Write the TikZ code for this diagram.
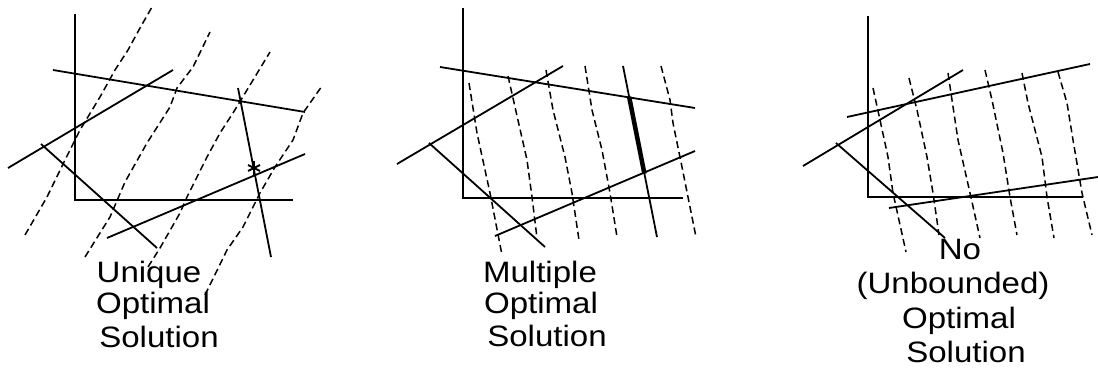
\documentclass[tikz,border=0pt]{standalone}
\usepackage{fontspec}
\setmainfont{Liberation Sans}
\usepackage{graphicx}
\usetikzlibrary{calc}
\tikzset{
  solidline/.style={line width=1.8pt},
  thickseg/.style={line width=4.5pt},
  dashline/.style={line width=1.5pt, dash pattern=on 7pt off 4pt},
  axisline/.style={line width=1.8pt},
  starline/.style={line width=2pt},
  lbl/.style={font=\fontsize{29.5}{32}\selectfont, inner sep=0pt, anchor=base},
}
\newcommand{\wideit}[1]{\scalebox{1.12}[1]{#1}}
\begin{document}
\begin{tikzpicture}[x=1pt,y=-1pt]
\useasboundingbox (0,0) rectangle (1098,372);

% ---------- Panel 1: unique optimal solution ----------
\draw[axisline] (75,14) -- (75,200) -- (293,200);
\draw[solidline] (53,70) -- (305,112);
\draw[solidline] (8,168) -- (173,70);
\draw[solidline] (41,144) -- (157,248);
\draw[solidline] (107,238) -- (305,154);
\draw[solidline] (238,88) -- (271,257);
\draw[dashline] (25,235) -- (47,197) -- (65,160) -- (80,130) -- (100,97) -- (115,70) -- (128,50) -- (140,28) -- (152,7);
\draw[dashline] (85,257) -- (110,217) -- (125,182) -- (147,143) -- (170,107) -- (177,88) -- (193,67) -- (210,32);
\draw[dashline] (148,267) -- (160,248) -- (180,213) -- (187,197) -- (207,157) -- (220,133) -- (233,113) -- (247,90) -- (270,52);
\draw[dashline] (205,295) -- (227,250) -- (243,227) -- (260,193) -- (275,167) -- (293,140) -- (303,113) -- (322,86);
\coordinate (star) at (254,168);
\draw[starline] ($(star)+(0,-7)$) -- ($(star)+(0,7)$);
\draw[starline] ($(star)+(-6,-3)$) -- ($(star)+(6,3)$);
\draw[starline] ($(star)+(-6,3)$) -- ($(star)+(6,-3)$);
\node[lbl] (u1) at (149,282) {\wideit{Unique}};
\node[lbl] (u2) at (153,313) {\wideit{Optimal}};
\node[lbl] (u3) at (159,347) {\wideit{Solution}};

% ---------- Panel 2: multiple optimal solutions ----------
\draw[axisline] (463,8) -- (463,198) -- (683,198);
\draw[solidline] (440,67) -- (695,108);
\draw[solidline] (397,164) -- (563,66);
\draw[solidline] (429,143) -- (545,247);
\draw[solidline] (495,236) -- (695,151);
\coordinate (e1) at (623,66);
\coordinate (e2) at (657,237);
\draw[solidline] (e1) -- (e2);
\draw[thickseg] ($(e1)!0.18!(e2)$) -- ($(e1)!0.63!(e2)$);
\draw[dashline] (469,83) -- (477,133) -- (490,193) -- (502,255);
\draw[dashline] (508,76) -- (515,107) -- (527,160) -- (532,197) -- (537,238);
\draw[dashline] (546,70) -- (553,110) -- (565,157) -- (572,193) -- (579,240);
\draw[dashline] (585,66) -- (592,110) -- (602,150) -- (610,193) -- (617,237);
\draw[dashline] (661,66) -- (670,100) -- (673,123) -- (682,167) -- (696,237);
\node[lbl] (m1) at (540,282) {\wideit{Multiple}};
\node[lbl] (m2) at (541,313) {\wideit{Optimal}};
\node[lbl] (m3) at (547,346) {\wideit{Solution}};

% ---------- Panel 3: unbounded ----------
\draw[axisline] (868,16) -- (868,197) -- (1083,197);
\draw[solidline] (847,117) -- (1090,64);
\draw[solidline] (803,166) -- (963,70);
\draw[solidline] (836,143) -- (945,238);
\draw[solidline] (889,208) -- (1098,177);
\draw[dashline] (873,88) -- (880,120) -- (888,157) -- (893,193) -- (906,252);
\draw[dashline] (909,78) -- (917,110) -- (927,157) -- (933,193) -- (939,235);
\draw[dashline] (948,73) -- (952,100) -- (958,140) -- (970,193) -- (980,238);
\draw[dashline] (985,70) -- (992,100) -- (1003,153) -- (1010,197) -- (1017,235);
\draw[dashline] (1022,73) -- (1028,103) -- (1042,157) -- (1047,197) -- (1054,238);
\draw[dashline] (1058,72) -- (1067,103) -- (1073,140) -- (1082,193) -- (1092,235);
\node[lbl] (n1) at (960,259) {\wideit{No}};
\node[lbl] (n2) at (953,293) {\wideit{(Unbounded)}};
\node[lbl] (n3) at (959,328) {\wideit{Optimal}};
\node[lbl] (n4) at (966,362) {\wideit{Solution}};
\end{tikzpicture}
\end{document}
